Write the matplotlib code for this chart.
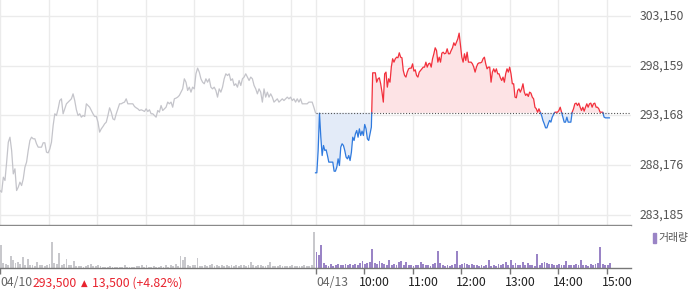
import numpy as np
import matplotlib
matplotlib.use("Agg")
import matplotlib.pyplot as plt
from matplotlib.patches import Rectangle
import matplotlib.transforms as mtrans

plt.rcParams['font.family'] = ['Noto Sans CJK KR', 'DejaVu Sans']

# ---------------- data ----------------
day1_price = [
    285640, 285470, 286980, 286650, 288490, 290490, 290990, 289660, 287310, 287820,
    285640, 285980, 286480, 286140, 286810, 287980, 288490, 289660, 290660, 290990,
    290830, 290830, 290330, 289990, 289990, 289990, 290430, 290430, 289490, 289420,
    289820, 290490, 292160, 293340, 293170, 293840, 294670, 294840, 293340, 293840,
    294340, 294510, 294670, 294840, 295340, 294670, 293740, 293170, 293340, 293000,
    293170, 293070, 294340, 294170, 294000, 293670, 293340, 293070, 293070, 292500,
    291500, 291830, 292060, 292330, 292500, 293170, 293940, 293500, 292830, 292730,
    293340, 293840, 294340, 294340, 294440, 294510, 294840, 294340, 294340, 294340,
    294340, 294070, 293940, 293840, 293670, 293740, 293670, 293570, 293840, 293570,
    293740, 293340, 293340, 293170, 293000, 293670, 293500, 294170, 293670, 293840,
    294000, 294510, 294340, 294510, 294000, 294840, 294910, 295010, 295180, 295510,
    295840, 296850, 296510, 295680, 296010, 295510, 296010, 295840, 297350, 297920,
    297520, 296850, 296510, 296350, 296850, 296510, 296850, 296010, 295840, 296010,
    295680, 295010, 295840, 295510, 296010, 296850, 297350, 297180, 297350, 296680,
    296850, 296180, 296350, 296010, 296680, 296180, 296850, 297020, 297350, 297020,
    296680, 297020, 296850, 296180, 295840, 295340, 295840, 295510, 294510, 295840,
    295010, 295510, 295010, 295340, 295010, 294510, 294670, 294840, 294510, 294670,
    294840, 294670, 294840, 295010, 294840, 295010, 294670, 294840, 294510, 294840,
    294510, 294840, 294340, 294340, 294340, 294340, 294510, 294510, 294510, 294000,
    293440,
]

day2_price = [
    287420, 287420, 289660, 293400, 290990, 289150, 290160, 289660, 289720, 289150,
    288490, 288490, 288490, 288490, 287580, 287580, 287980, 288820, 288150, 289990,
    290330, 290160, 289660, 288990, 288820, 289150, 288650, 289490, 290990, 290660,
    291330, 291660, 290990, 291830, 291160, 291600, 291160, 292270, 291830, 290830,
    290660, 291330, 292000, 297450, 297450, 297450, 296510, 296850, 296950, 296350,
    295510, 294510, 297350, 297520, 296010, 296850, 296510, 298020, 298860, 298520,
    298860, 299020, 298960, 299460, 299020, 298960, 297680, 297180, 297020, 297520,
    297850, 297920, 297920, 298350, 297620, 297750, 297180, 297020, 297520, 297680,
    297850, 298020, 298020, 298520, 298020, 298350, 298420, 298020, 298860, 299360,
    299960, 299690, 298520, 299020, 298520, 299420, 299520, 299360, 299420, 299860,
    299360, 299360, 299690, 299960, 300460, 300190, 300530, 300860, 301430, 300190,
    299020, 298520, 299360, 298690, 299520, 298520, 298520, 298520, 298350, 298020,
    297520, 298020, 298350, 298450, 298450, 298520, 298860, 299020, 298350, 297850,
    298020, 298020, 296510, 297520, 297850, 297520, 297850, 297350, 297350, 296950,
    296680, 297020, 296510, 297350, 297850, 297520, 298020, 297350, 296350, 296350,
    295010, 294940, 295680, 295840, 295510, 295840, 296350, 295510, 295180, 295340,
    295080, 295510, 295410, 295010, 294840, 294000, 293840, 293500, 293840, 293500,
    293170, 292670, 292330, 291930, 291930, 292330, 292670, 292500, 293000, 293270,
    293500, 293500, 293500, 293670, 294000, 293500, 293000, 292500, 292500, 293000,
    292500, 292500, 292500, 293500, 293840, 294340, 294410, 294170, 294410, 294000,
    293670, 294000, 293600, 294000, 294340, 294000, 294340, 294410, 294000, 294340,
    294410, 294000, 294000, 293840, 293500, 293500, 293500, 293000, 292930, 292930,
    292930, 292930,
]

day1_volume = [
    23, 5, 4, 3, 12, 8, 5, 6, 4, 11,
    3, 9, 3, 3, 2, 6, 3, 3, 2, 3,
    4, 26, 5, 4, 15, 3, 4, 9, 3, 3,
    7, 2, 2, 2, 1, 2, 3, 4, 2, 2,
    3, 2, 1, 1, 1, 2, 1, 1, 1, 1,
    1, 3, 1, 1, 1, 1, 2, 2, 3, 1,
    3, 1, 1, 2, 1, 1, 2, 1, 3, 1,
    3, 2, 4, 2, 12, 8, 11, 3, 2, 3,
    3, 10, 2, 2, 3, 2, 3, 4, 2, 3,
    2, 3, 2, 3, 2, 3, 2, 3, 2, 3,
    3, 2, 3, 6, 3, 2, 3, 3, 2, 2,
    3, 6, 2, 2, 2, 3, 2, 2, 2, 2,
    3, 2, 2, 2, 2, 3, 2, 2, 3, 36,
]

day2_volume = [
    16, 13, 23, 5, 3, 2, 4, 2, 3, 4,
    3, 3, 4, 3, 4, 3, 4, 3, 5, 7,
    4, 5, 6, 19, 5, 4, 7, 5, 4, 3,
    8, 3, 4, 3, 6, 7, 3, 6, 3, 3,
    2, 3, 3, 6, 4, 3, 3, 2, 4, 5,
    17, 5, 3, 2, 3, 2, 3, 4, 17, 3,
    4, 5, 4, 3, 4, 3, 3, 2, 3, 2,
    3, 8, 2, 3, 2, 4, 3, 4, 6, 3,
    8, 3, 5, 3, 3, 6, 3, 5, 3, 3,
    2, 14, 3, 5, 6, 5, 4, 4, 3, 3,
    4, 3, 3, 7, 3, 3, 3, 4, 3, 8,
    3, 3, 2, 4, 3, 4, 5, 21, 4, 3,
    3, 5,
]

prev_close = 293440
y_ticks = [283185, 288176, 293168, 298159, 303150]
y_tick_labels = ['283,185', '288,176', '293,168', '298,159', '303,150']
day_labels = ['04/10', '04/13']
hour_labels = ['10:00', '11:00', '12:00', '13:00', '14:00', '15:00']
last_price_text = '293,500'
change_arrow = '\u25b2'
change_text = '13,500 (+4.82%)'
legend_label = '거래량'

session_min = 390          # 09:00 - 15:30
day2_step_min = 1.644      # sampling interval of day-2 readings
vol_step_min = 3

# ---------------- styling ----------------
GRID = '#ebebeb'
GRAY_LINE = '#c4c4ca'
RED = '#f2303c'
BLUE = '#2f7ade'
RED_FILL = '#fde3e5'
BLUE_FILL = '#e3ebf8'
VOL_GRAY = '#c8c8cc'
VOL_PURPLE = '#9a84c6'
AXIS = '#8a8a8a'
FS = 8.8

W, H = 700, 289
fig = plt.figure(figsize=(W / 100, H / 100), dpi=100)
plot_w = 631 / W
ax = fig.add_axes([0, (H - 225) / H, plot_w, 225 / H])
axv = fig.add_axes([0, (H - 268) / H, plot_w, 42 / H])

x_max = 2 * session_min
t1 = np.linspace(0, session_min, len(day1_price))
t2 = session_min + np.arange(len(day2_price)) * day2_step_min
p1 = np.array(day1_price, float)
p2 = np.array(day2_price, float)

# grid
hour_ticks_d1 = [60 * h for h in range(0, 7)]
day_break = session_min
hour_ticks_d2 = [session_min + 60 * h for h in range(1, 7)]
ax.set_xticks(hour_ticks_d1 + [day_break] + hour_ticks_d2)
ax.set_yticks(y_ticks)
ax.grid(True, color=GRID, lw=1.0)
ax.set_axisbelow(True)
ax.tick_params(length=0, labelbottom=False, labelleft=False)
for s in ['top', 'left', 'right']:
    ax.spines[s].set_visible(False)
ax.spines['bottom'].set_color(AXIS)
ax.spines['bottom'].set_linewidth(1.0)
ax.set_xlim(0, x_max)
ax.set_ylim(282182, 304755)

# day 1 line
ax.plot(t1, p1, color=GRAY_LINE, lw=0.9, zorder=3)


def split_at_ref(t, p, ref):
    ts, ps = [t[0]], [p[0]]
    for i in range(1, len(t)):
        a, b = p[i - 1] - ref, p[i] - ref
        if a * b < 0:
            f = a / (a - b)
            ts.append(t[i - 1] + f * (t[i] - t[i - 1]))
            ps.append(ref)
        ts.append(t[i])
        ps.append(p[i])
    return np.array(ts), np.array(ps)


ts, ps = split_at_ref(t2, p2, prev_close)
ax.fill_between(ts, ps, prev_close, where=ps >= prev_close, color=RED_FILL,
                lw=0, zorder=2)
ax.fill_between(ts, ps, prev_close, where=ps <= prev_close, color=BLUE_FILL,
                lw=0, zorder=2)
ax.plot(ts, np.where(ps >= prev_close, ps, np.nan), color=RED, lw=0.9, zorder=4)
ax.plot(ts, np.where(ps <= prev_close, ps, np.nan), color=BLUE, lw=0.9, zorder=4)
ax.plot([session_min, x_max], [prev_close, prev_close], color='#555555',
        lw=0.8, ls=(0, (1, 1.6)), zorder=5)

# right-side price labels
trans = mtrans.blended_transform_factory(ax.transAxes, ax.transData)
for v, lab in zip(y_ticks, y_tick_labels):
    ax.text(640 / 631, v, lab, transform=trans, ha='left', va='center',
            fontsize=FS, color='#555555', clip_on=False)

# volume
tv1 = np.arange(len(day1_volume)) * vol_step_min
tv2 = session_min + np.arange(len(day2_volume)) * vol_step_min
axv.bar(tv1, day1_volume, width=2.3, align='edge', color=VOL_GRAY, lw=0)
axv.bar(tv2, day2_volume, width=2.3, align='edge', color=VOL_PURPLE, lw=0)
axv.set_xlim(0, x_max)
axv.set_ylim(0, 42)
axv.set_yticks([])
for s in ['top', 'left', 'right']:
    axv.spines[s].set_visible(False)
axv.spines['bottom'].set_color('#777777')
axv.spines['bottom'].set_linewidth(1.0)
axv.set_xticks([0, day_break] + hour_ticks_d2)
axv.tick_params(axis='x', direction='out', length=4, width=1, color='#777777',
                labelbottom=False)

# bottom labels
ly = (H - 283) / H
RED_TXT = '#e8232e'
fig.text(0 / W, ly, day_labels[0], ha='left', va='center', fontsize=FS,
         color='#666666')
fig.text(33 / W, ly, last_price_text, ha='left', va='center', fontsize=FS,
         color=RED_TXT)
fig.text(81 / W, ly - 0.3 / H, change_arrow, ha='left', va='center',
         fontsize=6.2, color=RED_TXT, family='DejaVu Sans')
fig.text(92 / W, ly, change_text, ha='left', va='center', fontsize=FS,
         color=RED_TXT)
fig.text(316 / W, ly, day_labels[1], ha='left', va='center', fontsize=FS,
         color='#666666')
for tk, lab in zip(hour_ticks_d2, hour_labels):
    px = tk / x_max * 631
    fig.text((px - 5) / W, ly, lab, ha='left', va='center',
             fontsize=FS, color='#222222')

# legend
fig.patches.append(Rectangle((653 / W, (H - 243) / H), 3 / W, 10 / H,
                             transform=fig.transFigure, color=VOL_PURPLE))
fig.text(658 / W, (H - 238) / H, legend_label, ha='left', va='center',
         fontsize=7.8, color='#555555')

fig.savefig('out.png', dpi=100)
